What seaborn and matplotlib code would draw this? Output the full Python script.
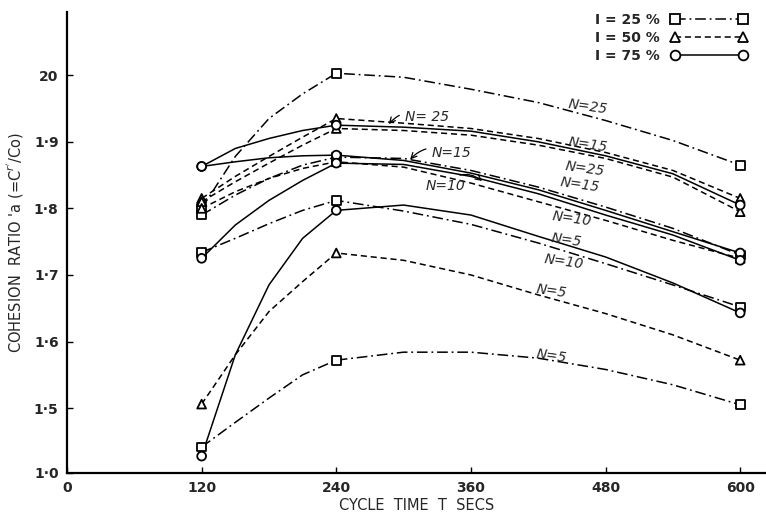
import numpy as np
import pandas as pd
import matplotlib.pyplot as plt
import seaborn as sns
from matplotlib.lines import Line2D

# Cycle times where the test points were taken
cycle_time = [120, 240, 600]
curve_time = [120, 150, 180, 210, 240, 300, 360, 420, 480, 540, 600]

# Cohesion ratio along each curve, I = 25 % (squares, dash-dot)
i25_n25 = [1.80, 1.878, 1.935, 1.972, 2.003, 1.997, 1.979, 1.959, 1.932, 1.902, 1.865]
i25_n15 = [1.79, 1.82, 1.845, 1.865, 1.877, 1.875, 1.857, 1.832, 1.802, 1.77, 1.73]
i25_n10 = [1.734, 1.755, 1.777, 1.797, 1.812, 1.796, 1.776, 1.748, 1.717, 1.685, 1.652]
i25_n5 = [1.20, 1.39, 1.515, 1.55, 1.572, 1.584, 1.584, 1.575, 1.558, 1.535, 1.505]
# I = 50 % (triangles, dashed)
i50_n25 = [1.815, 1.848, 1.878, 1.907, 1.935, 1.928, 1.92, 1.905, 1.884, 1.857, 1.815]
i50_n15 = [1.81, 1.84, 1.868, 1.895, 1.92, 1.917, 1.91, 1.895, 1.875, 1.847, 1.795]
i50_n10 = [1.80, 1.825, 1.845, 1.86, 1.87, 1.862, 1.838, 1.81, 1.782, 1.752, 1.725]
i50_n5 = [1.506, 1.58, 1.645, 1.69, 1.733, 1.722, 1.70, 1.67, 1.642, 1.61, 1.572]
# I = 75 % (circles, solid)
i75_n25 = [1.863, 1.89, 1.905, 1.917, 1.925, 1.922, 1.916, 1.90, 1.879, 1.852, 1.805]
i75_n15 = [1.863, 1.87, 1.876, 1.879, 1.88, 1.872, 1.853, 1.828, 1.797, 1.765, 1.733]
i75_n10 = [1.725, 1.775, 1.812, 1.842, 1.868, 1.866, 1.848, 1.822, 1.79, 1.76, 1.722]
i75_n5 = [1.13, 1.58, 1.685, 1.755, 1.797, 1.805, 1.79, 1.758, 1.727, 1.688, 1.643]

# Curve labels written along the lines
label_text = ["N=25", "N=15", "N=25", "N=15", "N=10", "N=5", "N=10", "N=5", "N=5"]
label_t = [464, 464, 462, 457, 450, 445, 443, 432, 432]
label_y = [1.952, 1.896, 1.859, 1.835, 1.785, 1.752, 1.719, 1.676, 1.578]
# Curve labels with a pointer arrow
arrow_text = ["N= 25", "N=15", "N=10"]
arrow_t = [321, 343, 337]
arrow_y = [1.938, 1.883, 1.833]
tip_t = [286, 305, 371]
tip_y = [1.925, 1.872, 1.840]
arrow_rad = [0.4, 0.4, -0.5]

series = {
    ("25 %", 25): i25_n25, ("25 %", 15): i25_n15, ("25 %", 10): i25_n10, ("25 %", 5): i25_n5,
    ("50 %", 25): i50_n25, ("50 %", 15): i50_n15, ("50 %", 10): i50_n10, ("50 %", 5): i50_n5,
    ("75 %", 25): i75_n25, ("75 %", 15): i75_n15, ("75 %", 10): i75_n10, ("75 %", 5): i75_n5,
}
rows = []
for (level, n), vals in series.items():
    for t, v in zip(curve_time, vals):
        rows.append({"T": t, "ratio": v, "I": level, "N": n})
df = pd.DataFrame(rows)
pts = df[df["T"].isin(cycle_time)]

sns.set_style("ticks")
plt.rcParams["font.family"] = ["DejaVu Sans"]

fig = plt.figure(figsize=(7.66, 5.18), dpi=100)
ax = fig.add_axes([67 / 766, 45 / 518, 699 / 766, 461 / 518])

dash_map = {"25 %": (7, 2.5, 1.2, 2.5), "50 %": (4, 2.5), "75 %": ""}
marker_map = {"25 %": "s", "50 %": "^", "75 %": "o"}

sns.lineplot(data=df, x="T", y="ratio", style="I", units="N", estimator=None,
             dashes=dash_map, color="black", linewidth=1.1, legend=False, ax=ax)
sns.scatterplot(data=pts, x="T", y="ratio", style="I", markers=marker_map,
                s=40, color="black", legend=False, ax=ax, zorder=5)
for coll in ax.collections:
    coll.set_facecolor("white")
    coll.set_edgecolor("black")
    coll.set_linewidth(1.3)


# broken lower part of the ratio axis (1.0 - 1.5 squeezed)
def fwd(y):
    y = np.asarray(y, dtype=float)
    return np.where(y < 1.5, 1.5 - (1.5 - y) * 0.195, y)


def inv(p):
    p = np.asarray(p, dtype=float)
    return np.where(p < 1.5, 1.5 - (1.5 - p) / 0.195, p)


ax.set_yscale("function", functions=(fwd, inv))
ax.set_ylim(1.0, 2.095)
ax.set_xlim(0, 623)

ax.set_yticks([1.0, 1.5, 1.6, 1.7, 1.8, 1.9, 2.0])
ax.set_yticklabels(["1·0", "1·5", "1·6", "1·7", "1·8", "1·9", "20"], fontweight="bold", fontsize=10)
ax.set_xticks([0, 120, 240, 360, 480, 600])
ax.set_xticklabels(["0", "120", "240", "360", "480", "600"], fontweight="bold", fontsize=10)
ax.yaxis.set_minor_locator(plt.NullLocator())
ax.tick_params(direction="in", length=4, width=1, color="black", pad=6)

sns.despine(ax=ax)
for side in ["left", "bottom"]:
    ax.spines[side].set_linewidth(1.6)
    ax.spines[side].set_color("black")

ax.set_xlabel("CYCLE  TIME  T  SECS", fontsize=10.5, labelpad=2)
ax.set_ylabel("COHESION  RATIO 'a (=C$^{r'}$/Co)", fontsize=10.5, labelpad=6)

for txt, t, y in zip(label_text, label_t, label_y):
    ax.text(t, y, txt, fontsize=10, fontstyle="italic", ha="center", va="center", rotation=-8)
for txt, t, y, tt, ty, rad in zip(arrow_text, arrow_t, arrow_y, tip_t, tip_y, arrow_rad):
    ax.annotate(txt, xy=(tt, ty), xytext=(t, y), fontsize=10, fontstyle="italic",
                ha="center", va="center",
                arrowprops=dict(arrowstyle="->", color="black", lw=0.9, shrinkA=2, shrinkB=1,
                                connectionstyle=f"arc3,rad={rad}"))

handles = [
    Line2D([], [], color="black", ls=(0, dash_map["25 %"]), lw=1.1, marker="s", ms=7,
           mfc="white", mec="black", mew=1.3),
    Line2D([], [], color="black", ls=(0, dash_map["50 %"]), lw=1.1, marker="^", ms=7,
           mfc="white", mec="black", mew=1.3),
    Line2D([], [], color="black", ls="-", lw=1.1, marker="o", ms=7,
           mfc="white", mec="black", mew=1.3),
]
fig.legend(handles, ["I = 25 %", "I = 50 %", "I = 75 %"], loc="upper right",
           bbox_to_anchor=(760 / 766, 1.0), frameon=False, markerfirst=False,
           numpoints=2, handlelength=5.5, labelspacing=0.3,
           prop={"weight": "bold", "size": 10})

fig.savefig("out.png", dpi=100)
